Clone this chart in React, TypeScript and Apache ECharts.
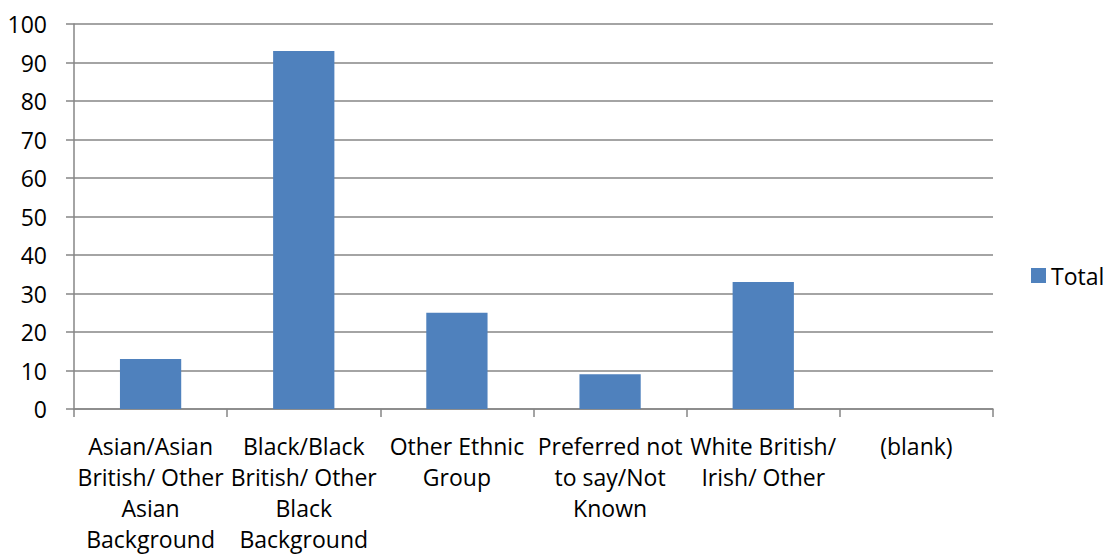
import React, { useEffect, useRef } from "react";
import * as echarts from "echarts";

const categories = [
  "Asian/Asian\nBritish/ Other\nAsian\nBackground",
  "Black/Black\nBritish/ Other\nBlack\nBackground",
  "Other Ethnic\nGroup",
  "Preferred not\nto say/Not\nKnown",
  "White British/\nIrish/ Other",
  "(blank)",
];
const totals: (number | null)[] = [13, 93, 25, 9, 33, null];
const seriesName = "Total";

export default function App() {
  const ref = useRef<HTMLDivElement>(null);
  useEffect(() => {
    if (!ref.current) return;
    const chart = echarts.init(ref.current, null, { renderer: "svg" });
    const font = "'Open Sans', sans-serif";
    const fs = 23;
    chart.setOption({
      animation: false,
      textStyle: { fontFamily: font },
      grid: { left: 74, right: 115, top: 24, bottom: 145, containLabel: false },
      legend: {
        left: 1031,
        top: 264,
        orient: "vertical",
        itemWidth: 15,
        itemHeight: 15,
        itemGap: 6,
        icon: "rect",
        padding: 0,
        textStyle: { fontSize: fs, color: "#000", fontFamily: font, padding: [0, 0, 0, 0] },
        data: [seriesName],
      },
      xAxis: {
        type: "category",
        data: categories,
        axisLine: { lineStyle: { color: "#868686", width: 1.5 } },
        axisTick: { show: true, length: 8, lineStyle: { color: "#868686", width: 1.5 } },
        axisLabel: {
          interval: 0,
          color: "#000",
          fontSize: fs,
          fontFamily: font,
          lineHeight: 31,
          margin: 21,
        },
      },
      yAxis: {
        type: "value",
        min: 0,
        max: 100,
        interval: 10,
        axisLine: { show: true, lineStyle: { color: "#868686", width: 1.5 } },
        axisTick: { show: true, length: 8, lineStyle: { color: "#868686", width: 1.5 } },
        splitLine: { show: true, lineStyle: { color: "#868686", width: 1.5 } },
        axisLabel: { color: "#000", fontSize: fs, fontFamily: font, margin: 27 },
      },
      series: [
        {
          name: seriesName,
          type: "bar",
          data: totals,
          barWidth: "40%",
          itemStyle: { color: "#4F81BD" },
        },
      ],
    });
    return () => chart.dispose();
  }, []);
  return <div ref={ref} style={{ width: 1108, height: 554, position: "absolute", left: 0, top: 0 }} />;
}
